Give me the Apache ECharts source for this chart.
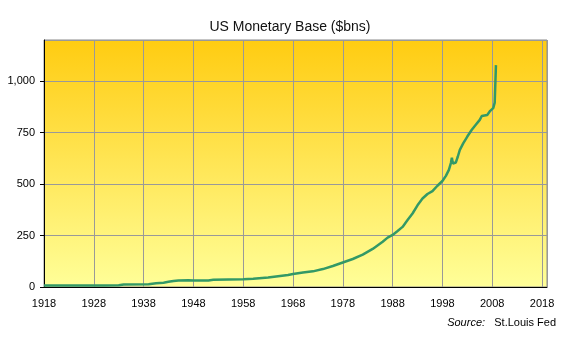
<!DOCTYPE html>
<html>
<head>
<meta charset="utf-8">
<script src="https://cdn.jsdelivr.net/npm/echarts@6/dist/echarts.min.js"></script>
<style>
html,body{margin:0;padding:0;background:#fff;}
#chart{width:572px;height:339px;}
</style>
</head>
<body>
<div id="chart"></div>
<script>
// Data (year, US monetary base in $bns)
var years = [1918, 1920, 1925, 1930, 1933, 1934, 1939, 1940.5, 1942, 1943, 1944, 1945, 1947, 1948, 1951, 1952, 1958, 1960, 1963, 1965, 1967, 1968, 1970, 1972, 1974, 1976, 1978, 1980, 1982, 1984, 1986, 1987, 1988, 1989, 1990, 1991, 1992, 1993, 1994, 1995, 1996, 1997, 1998, 1998.7, 1999.3, 1999.7, 1999.9, 2000.1, 2000.7, 2001.1, 2001.5, 2002.2, 2003, 2003.9, 2004.7, 2005.5, 2005.9, 2007, 2007.6, 2008, 2008.2, 2008.5, 2008.6, 2008.75];
var values = [7, 7, 7, 7, 8, 12, 13, 18, 21, 25, 29, 32, 33, 31, 32, 35, 38, 40, 46, 52, 58, 63, 70, 76, 87, 102, 119, 136, 157, 185, 220, 240, 253, 272, 292, 325, 357, 397, 430, 452, 466, 492, 515, 540, 569, 602, 628, 600, 605, 634, 666, 699, 731, 764, 788, 812, 831, 836, 856, 860, 869, 896, 905, 1078];
var xStart = 1918, xEnd = 2019, xStep = 10;
var yMin = 0, yMax = 1200, yStep = 250;
var titleText = 'US Monetary Base ($bns)';

var chart = echarts.init(document.getElementById('chart'), null, {renderer: 'canvas'});
var seriesData = years.map(function (y, i) { return [y - xStart, values[i]]; });
var FONT = 'Liberation Sans, Arial, sans-serif';

chart.setOption({
  animation: false,
  backgroundColor: '#ffffff',
  title: {
    text: titleText,
    left: 285, top: 15, textAlign: 'center',
    textStyle: {fontFamily: FONT, fontSize: 14, fontWeight: 'normal', color: '#111'}
  },
  grid: {
    left: 44, right: 25, top: 40, bottom: 52,
    show: true,
    borderColor: '#8a8a8a', borderWidth: 1,
    backgroundColor: {
      type: 'linear', x: 0, y: 0, x2: 0, y2: 1,
      colorStops: [{offset: 0, color: '#FFCC11'}, {offset: 1, color: '#FFFF99'}]
    }
  },
  xAxis: {
    type: 'value', min: 0, max: xEnd - xStart, interval: xStep,
    axisLine: {show: true, onZero: false, lineStyle: {color: '#000', width: 1}},
    axisTick: {show: false},
    axisLabel: {
      color: '#000', fontFamily: FONT, fontSize: 11, margin: 11,
      showMaxLabel: false,
      formatter: function (v) { return String(v + xStart); }
    },
    splitLine: {show: true, lineStyle: {color: '#999999', width: 1}}
  },
  yAxis: {
    type: 'value', min: yMin, max: yMax, interval: yStep,
    axisLine: {show: true, lineStyle: {color: '#000', width: 1}},
    axisTick: {show: true, length: 4, lineStyle: {color: '#000'}},
    axisLabel: {
      color: '#000', fontFamily: FONT, fontSize: 11, margin: 9,
      showMaxLabel: false,
      formatter: function (v) { return v.toLocaleString('en-US'); }
    },
    splitLine: {show: true, lineStyle: {color: '#999999', width: 1}}
  },
  series: [{
    type: 'line',
    data: seriesData,
    showSymbol: false,
    lineStyle: {color: '#339966', width: 2.5},
    itemStyle: {color: '#339966'}
  }],
  graphic: [{
    type: 'text',
    right: 16, top: 317,
    style: {
      text: '{i|Source:}{n|   St.Louis Fed}',
      font: '11px ' + FONT,
      fill: '#000',
      rich: {
        i: {fontStyle: 'italic', fontFamily: FONT, fontSize: 11, fill: '#000'},
        n: {fontFamily: FONT, fontSize: 11, fill: '#000'}
      }
    }
  }]
});
</script>
</body>
</html>
